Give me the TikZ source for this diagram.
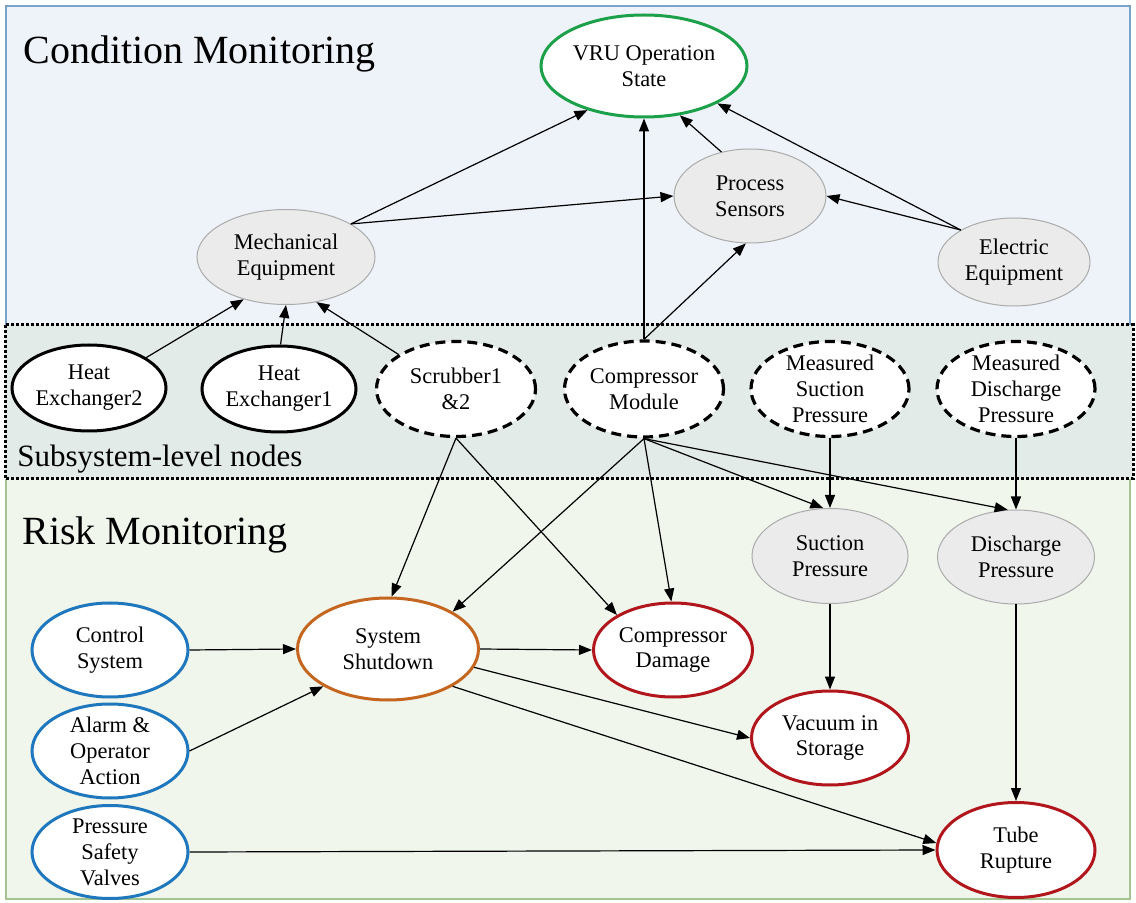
\documentclass[tikz,border=0pt]{standalone}
\usepackage{fontspec}
\setmainfont{Liberation Serif}
\usetikzlibrary{shapes.geometric,arrows.meta}

\definecolor{cmfill}{HTML}{EEF2F9}
\definecolor{cmline}{HTML}{7AA3CA}
\definecolor{subfill}{HTML}{E3EBE8}
\definecolor{rmfill}{HTML}{F0F6EB}
\definecolor{rmline}{HTML}{A3C391}
\definecolor{grayfill}{HTML}{EBEBEB}
\definecolor{grayline}{HTML}{ABABAB}
\definecolor{stategreen}{HTML}{1DA04A}
\definecolor{shutorange}{HTML}{C4661F}
\definecolor{riskred}{HTML}{B2161D}
\definecolor{ctrlblue}{HTML}{1F78BD}

\tikzset{
  ell/.style={ellipse, inner xsep=0pt, inner ysep=-4pt, align=center,
    font=\fontsize{11.2}{13}\selectfont},
  sz/.style 2 args={minimum width=#1*0.5pt, minimum height=#2*0.5pt},
  latent/.style={ell, fill=grayfill, draw=grayline, line width=0.5pt},
  subsolid/.style={ell, fill=white, draw=black, line width=1.5pt},
  subdashed/.style={ell, fill=white, draw=black, line width=1.6pt,
    dash pattern=on 5pt off 3pt},
  statenode/.style={ell, fill=white, draw=stategreen, line width=1.5pt},
  shutnode/.style={ell, fill=white, draw=shutorange, line width=1.5pt},
  risknode/.style={ell, fill=white, draw=riskred, line width=1.5pt},
  ctrlnode/.style={ell, fill=white, draw=ctrlblue, line width=1.5pt},
  arr/.style={-{Triangle[length=6.5pt,width=5pt]}, line width=0.6pt, black},
  paneltitle/.style={anchor=base west, inner sep=0pt, font=\fontsize{20}{24}\selectfont},
  boxtitle/.style={anchor=base west, inner sep=0pt, font=\fontsize{15.5}{18}\selectfont}
}

\begin{document}
\begin{tikzpicture}[x=0.5pt,y=-0.5pt]
\useasboundingbox (0,0) rectangle (1136,903);

% panels
\fill[cmfill] (6,6) rectangle (1130,325);
\draw[cmline, line width=1pt] (6,325) -- (6,6) -- (1130,6) -- (1130,325);
\fill[rmfill] (6,479) rectangle (1130,899);
\draw[rmline, line width=1pt] (6,479) -- (6,899) -- (1130,899) -- (1130,479);
\draw[black, fill=subfill, line width=1.5pt, dash pattern=on 1.5pt off 1pt]
  (5,325) rectangle (1133,479);

% panel titles
\node[paneltitle] (tcond) at (23,64) {Condition Monitoring};
\node[paneltitle] (trisk) at (22,545) {Risk Monitoring};
\node[boxtitle] (tsub) at (17,467) {Subsystem-level nodes};

% condition monitoring nodes
\node[statenode, sz={206}{102}] (vru) at (644,66) {VRU Operation\\State};
\node[latent, sz={152}{94}] (ps) at (750,196) {Process\\Sensors};
\node[latent, sz={178}{95}] (mech) at (286,257) {Mechanical\\Equipment};
\node[latent, sz={152}{88}] (ee) at (1014,262) {Electric\\Equipment};

% subsystem-level nodes
\node[subsolid, sz={154}{86}] (he2) at (89,388) {Heat\\Exchanger2};
\node[subsolid, sz={154}{86}] (he1) at (279,389) {Heat\\Exchanger1};
\node[subdashed, sz={159}{95}] (scr) at (456,389) {Scrubber1\\\&2};
\node[subdashed, sz={159}{96}] (comp) at (644,389) {Compressor\\Module};
\node[subdashed, sz={158}{95}] (msp) at (830,389) {Measured\\Suction\\Pressure};
\node[subdashed, sz={158}{95}] (mdp) at (1016,389) {Measured\\Discharge\\Pressure};

% risk monitoring nodes
\node[latent, sz={156}{95}] (sp) at (830,556) {Suction\\Pressure};
\node[latent, sz={157}{94}] (dp) at (1016,557) {Discharge\\Pressure};
\node[ctrlnode, sz={156}{94}] (cs) at (110,650) {Control\\System};
\node[ctrlnode, sz={156}{94}] (alarm) at (110,751) {Alarm \&\\Operator\\Action};
\node[ctrlnode, sz={156}{93}] (psv) at (110,852) {Pressure\\Safety\\Valves};
\node[shutnode, sz={181}{102}] (ss) at (388,649) {System\\Shutdown};
\node[risknode, sz={159}{94}] (cd) at (673,650) {Compressor\\Damage};
\node[risknode, sz={157}{94}] (vac) at (830,738) {Vacuum in\\Storage};
\node[risknode, sz={158}{95}] (tr) at (1016,850) {Tube\\Rupture};

% condition monitoring edges
\draw[arr] (mech.27) -- (vru.218);
\draw[arr] (mech.27) -- (ps.west);
\draw[arr] (comp.north) -- (vru.south);
\draw[arr] (comp.north) -- (ps.265);
\draw[arr] (ps.123) -- (vru.306);
\draw[arr] (ee.149) -- (vru.333);
\draw[arr] (ee.149) -- (ps.east);
\draw[arr] (he2.28) -- (mech.225);
\draw[arr] (he1.88) -- (mech.south);
\draw[arr] (scr.149) -- (mech.304);

% risk monitoring edges
\draw[arr] (scr.south) -- (ss.86);
\draw[arr] (scr.south) -- (cd.148);
\draw[arr] (comp.south) -- (ss.30);
\draw[arr] (comp.south) -- (cd.92);
\draw[arr] (comp.south) -- (sp.98);
\draw[arr] (comp.south) -- (dp.100);
\draw[arr] (msp.south) -- (sp.north);
\draw[arr] (mdp.south) -- (dp.north);
\draw[arr] (sp.south) -- (vac.north);
\draw[arr] (dp.south) -- (tr.north);
\draw[arr] (cs.east) -- (ss.west);
\draw[arr] (alarm.east) -- (ss.210);
\draw[arr] (psv.east) -- (tr.west);
\draw[arr] (ss.east) -- (cd.west);
\draw[arr] (ss.-12) -- (vac.west);
\draw[arr] (ss.-30) -- (tr.175);
\end{tikzpicture}
\end{document}
